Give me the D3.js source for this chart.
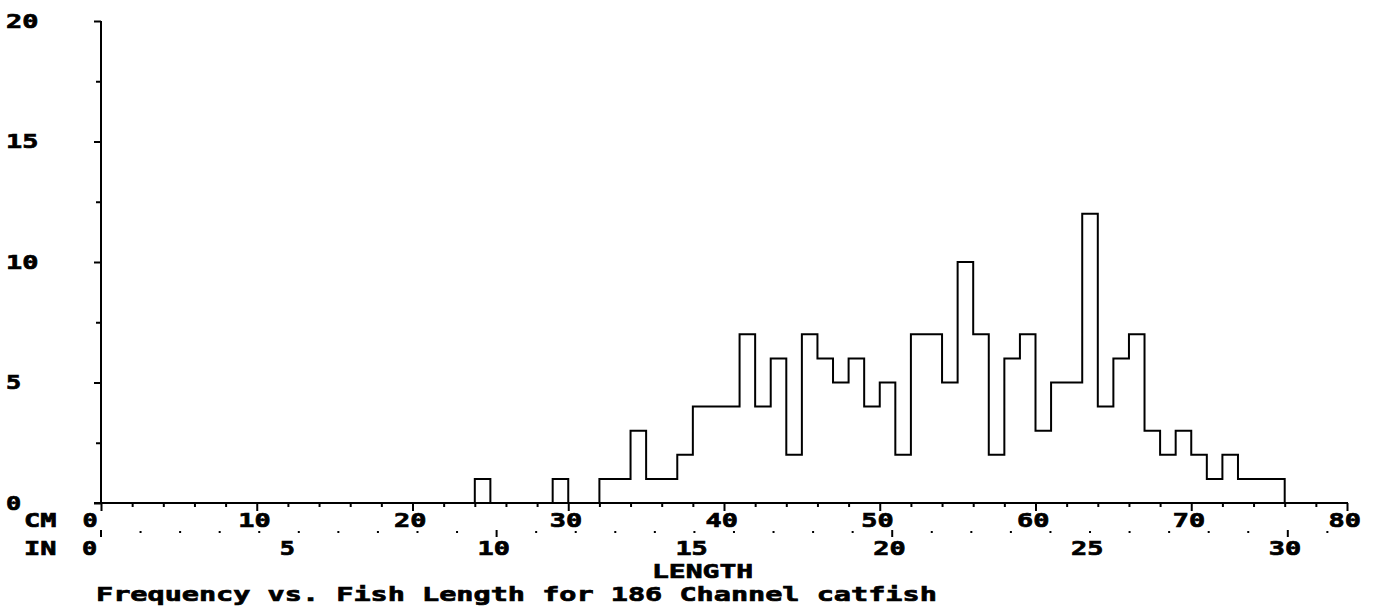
<!DOCTYPE html>
<html>
<head>
<meta charset="utf-8">
<script src="https://cdn.jsdelivr.net/npm/d3@7"></script>
<style>
  html, body { margin: 0; padding: 0; background: #fff; }
  svg { display: block; }
  text { font-family: "DejaVu Sans Mono", monospace; font-weight: bold; font-size: 20px; fill: #000; stroke: #000; stroke-width: 0.7px; }
</style>
</head>
<body>
<svg id="chart" width="1378" height="609"></svg>
<script>
// ---- data ----
const binStartCm = [24, 29, 32, 33, 34, 35, 36, 37, 38, 39, 40, 41, 42, 43, 44, 45, 46, 47, 48, 49,
                    50, 51, 52, 53, 54, 55, 56, 57, 58, 59, 60, 61, 62, 63, 64, 65, 66, 67, 68, 69,
                    70, 71, 72, 73, 74, 75];
const frequency  = [1, 1, 1, 1, 3, 1, 1, 2, 4, 4, 4, 7, 4, 6, 2, 7, 6, 5, 6, 4,
                    5, 2, 7, 7, 5, 10, 7, 2, 6, 7, 3, 5, 5, 12, 4, 6, 7, 3, 2, 3,
                    2, 1, 2, 1, 1, 1];
const binWidthCm = 1;
const yTickLabels = [0, 5, 10, 15, 20];
const cmTickLabels = [0, 10, 20, 30, 40, 50, 60, 70, 80];
const inTickLabels = [0, 5, 10, 15, 20, 25, 30];
const title = "Frequency vs. Fish Length for 186 Channel catfish";
const xTitle = "LENGTH";

const CHAR_W = 17.2;
const svg = d3.select("#chart");

const x = d3.scaleLinear().domain([0, 80]).range([101, 1347]);
const xIn = d3.scaleLinear().domain([0, 80 / 2.54]).range([101, 1347]);
const y = d3.scaleLinear().domain([0, 20]).range([503, 21]);

function stretch(sel) {
  sel.attr("textLength", function() { return this.textContent.length * CHAR_W - 2; })
     .attr("lengthAdjust", "spacingAndGlyphs");
}
function styleText(sel) {
  sel.attr("fill", "#000").attr("stroke", "#000").attr("stroke-width", 0.7)
     .style("font-size", "20px").style("font-family", "'DejaVu Sans Mono', monospace").style("font-weight", "bold");
}

// ---- Y axis ----
const yAxis = d3.axisLeft(y)
  .tickValues(d3.range(0, 20.01, 2.5))
  .tickSizeOuter(0)
  .tickFormat(d => (yTickLabels.includes(d) ? d3.format("d")(d) : ""));
const gy = svg.append("g").attr("transform", "translate(101,0)").call(yAxis);
gy.select(".domain").attr("stroke", "#000").attr("stroke-width", 2).attr("d", `M0,${y(20)}V${y(0) + 1}`);
gy.selectAll(".tick line").attr("stroke", "#000").attr("stroke-width", 2)
  .attr("x2", d => (d % 5 === 0 ? -7 : -5));
gy.selectAll(".tick text")
  .attr("x", 7 - 101 - 1).attr("dy", null).attr("y", 6)
  .attr("text-anchor", "start")
  .call(styleText)
  .each(function() { d3.select(this).call(stretch); });

// ---- X axis (cm) ----
const xAxis = d3.axisBottom(x)
  .tickValues(d3.range(0, 80.01, 2))
  .tickSizeOuter(0)
  .tickFormat(d => (cmTickLabels.includes(d) ? d3.format("d")(d) : ""));
const gx = svg.append("g").attr("transform", "translate(0,503)").call(xAxis);
gx.select(".domain").attr("stroke", "#000").attr("stroke-width", 2).attr("d", `M94,0H${x(80) + 1}`);
gx.selectAll(".tick line").attr("stroke", "#000").attr("stroke-width", 2)
  .attr("y2", d => (d % 10 === 0 ? 8 : 4));
gx.selectAll(".tick text")
  .attr("x", -19).attr("dy", null).attr("y", 24)
  .attr("text-anchor", "start")
  .call(styleText)
  .each(function() { d3.select(this).call(stretch); });

// ---- Inch scale ----
const inAll = d3.range(0, Math.floor(80 / 2.54) + 1);
svg.append("g").selectAll("rect").data(inAll.filter(d => d % 10 !== 0)).join("rect")
  .attr("x", d => xIn(d) - 1).attr("y", 531).attr("width", 2).attr("height", 2).attr("fill", "#000");
svg.append("g").selectAll("line").data(inAll.filter(d => d % 10 === 0)).join("line")
  .attr("x1", d => xIn(d)).attr("x2", d => xIn(d)).attr("y1", 530).attr("y2", 537)
  .attr("stroke", "#000").attr("stroke-width", 2);
svg.append("g").selectAll("text").data(inTickLabels).join("text")
  .attr("x", d => xIn(d) - 19).attr("y", 555).text(d => d).each(function() { d3.select(this).call(stretch); });

// unit labels
svg.append("text").attr("x", 24).attr("y", 527).text("CM").call(stretch);
svg.append("text").attr("x", 24).attr("y", 555).text("IN").call(stretch);

// titles
svg.append("text").attr("x", 652).attr("y", 578).text(xTitle).call(stretch);
svg.append("text").attr("x", 96).attr("y", 601).text(title).call(stretch);

// ---- histogram outline (step line) ----
const pts = [];
binStartCm.forEach((b, i) => {
  const prevEnd = i > 0 ? binStartCm[i - 1] + binWidthCm : null;
  if (prevEnd !== null && prevEnd < b) { pts.push([prevEnd, 0]); pts.push([b, 0]); }
  if (i === 0) pts.push([b, 0]);
  pts.push([b, frequency[i]]);
  pts.push([b + binWidthCm, frequency[i]]);
});
pts.push([binStartCm[binStartCm.length - 1] + binWidthCm, 0]);
const line = d3.line().x(d => x(d[0])).y(d => y(d[1])).curve(d3.curveLinear);
svg.append("path").attr("d", line(pts)).attr("fill", "none")
  .attr("stroke", "#000").attr("stroke-width", 2).attr("stroke-linejoin", "miter");
</script>
</body>
</html>
